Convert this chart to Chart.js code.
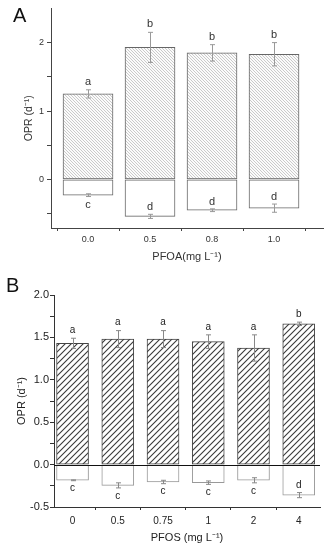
<!DOCTYPE html>
<html>
<head>
<meta charset="utf-8">
<script src="https://cdn.jsdelivr.net/npm/chart.js@4.4.1/dist/chart.umd.min.js"></script>
<style>
  html, body { margin: 0; padding: 0; background: #fff; }
  body { width: 331px; height: 550px; position: relative; overflow: hidden; font-family: 'Liberation Sans', Arial, sans-serif; }
  .panel { position: absolute; left: 0; width: 331px; }
  .tag { position: absolute; font-size: 20px; line-height: 20px; color: #111; font-family: 'Liberation Sans', Arial, sans-serif; }
</style>
</head>
<body>
<div class="panel" style="top:0;height:265px;"><canvas id="chartA" width="331" height="265"></canvas></div>
<div class="panel" style="top:265px;height:285px;"><canvas id="chartB" width="331" height="285"></canvas></div>
<div class="tag" style="left:13px;top:5px;">A</div>
<div class="tag" style="left:6px;top:275px;">B</div>
<script>
// ---------- Panel A data (PFOA) ----------
const categoriesA = ['0.0', '0.5', '0.8', '1.0'];
const positiveA = [1.25, 1.93, 1.85, 1.83];
const positiveErrA = [0.06, 0.22, 0.12, 0.17];
const negativeA = [-0.23, -0.54, -0.45, -0.42];
const negativeErrA = [0.02, 0.03, 0.02, 0.06];
const positiveLettersA = ['a', 'b', 'b', 'b'];
const negativeLettersA = ['c', 'd', 'd', 'd'];
const yTicksA = [-0.5, 0, 0.5, 1, 1.5, 2];
const yTickLabelsA = ['', '0', '', '1', '', '2'];

// ---------- Panel B data (PFOS) ----------
const categoriesB = ['0', '0.5', '0.75', '1', '2', '4'];
const positiveB = [1.43, 1.48, 1.48, 1.45, 1.375, 1.66];
const positiveErrB = [0.06, 0.10, 0.10, 0.08, 0.155, 0.02];
const negativeB = [-0.185, -0.245, -0.205, -0.213, -0.185, -0.36];
const negativeErrB = [0.005, 0.03, 0.02, 0.02, 0.03, 0.03];
const positiveLettersB = ['a', 'a', 'a', 'a', 'a', 'b'];
const negativeLettersB = ['c', 'c', 'c', 'c', 'c', 'd'];
const yTicksB = [-0.5, -0.25, 0, 0.25, 0.5, 0.75, 1, 1.25, 1.5, 1.75, 2];
const yTickLabelsB = ['-0.5', '', '0.0', '', '0.5', '', '1.0', '', '1.5', '', '2.0'];

const FONT = "'Liberation Sans', Arial, sans-serif";

function hatch(size, dir, color, lw, bg) {
  const c = document.createElement('canvas');
  c.width = size; c.height = size;
  const g = c.getContext('2d');
  g.fillStyle = bg; g.fillRect(0, 0, size, size);
  g.strokeStyle = color; g.lineWidth = lw;
  g.beginPath();
  if (dir === '/') {
    g.moveTo(-1, size + 1); g.lineTo(size + 1, -1);
    g.moveTo(-1, 1); g.lineTo(1, -1);
    g.moveTo(size - 1, size + 1); g.lineTo(size + 1, size - 1);
  } else {
    g.moveTo(-1, -1); g.lineTo(size + 1, size + 1);
    g.moveTo(size - 1, -1); g.lineTo(size + 1, 1);
    g.moveTo(-1, size - 1); g.lineTo(1, size + 1);
  }
  g.stroke();
  return g.createPattern(c, 'repeat');
}

function annotations(cfg) {
  return {
    id: 'annot',
    afterDatasetsDraw(chart) {
      const ctx = chart.ctx;
      const xs = chart.scales.x, ys = chart.scales.y;
      const area = chart.chartArea;
      ctx.save();
      if (cfg.zeroLine) {
        ctx.strokeStyle = '#111'; ctx.lineWidth = 1;
        const y0 = Math.round(ys.getPixelForValue(0)) + 0.5;
        ctx.beginPath(); ctx.moveTo(area.left, y0); ctx.lineTo(area.right, y0); ctx.stroke();
      }
      ctx.strokeStyle = cfg.errColor; ctx.lineWidth = 1;
      const drawErr = (x, v, e) => {
        const a = ys.getPixelForValue(v + e), b = ys.getPixelForValue(v - e);
        ctx.beginPath();
        ctx.moveTo(x, a); ctx.lineTo(x, b);
        ctx.moveTo(x - cfg.cap, a); ctx.lineTo(x + cfg.cap, a);
        ctx.moveTo(x - cfg.cap, b); ctx.lineTo(x + cfg.cap, b);
        ctx.stroke();
      };
      cfg.pos.forEach((v, i) => {
        const x = Math.round(xs.getPixelForValue(i + 1)) + 0.5;
        drawErr(x, v, cfg.posErr[i]);
        drawErr(x, cfg.neg[i], cfg.negErr[i]);
      });
      ctx.fillStyle = cfg.textColor;
      ctx.font = cfg.letterFont + 'px ' + FONT;
      ctx.textAlign = 'center'; ctx.textBaseline = 'middle';
      cfg.pos.forEach((v, i) => {
        const x = xs.getPixelForValue(i + 1);
        ctx.fillText(cfg.posLetters[i], x, ys.getPixelForValue(v + cfg.posErr[i]) - 8);
        const n = cfg.neg[i], ne = cfg.negErr[i];
        if (Math.abs(n) < 0.3) {
          ctx.fillText(cfg.negLetters[i], x, ys.getPixelForValue(n - ne) + 8);
        } else {
          ctx.fillText(cfg.negLetters[i], x, ys.getPixelForValue(n + ne) - 7);
        }
      });
      ctx.restore();
    }
  };
}

function makeChart(id, o) {
  const toPts = arr => arr.map((v, i) => ({ x: i + 1, y: v }));
  return new Chart(document.getElementById(id), {
    type: 'bar',
    data: {
      datasets: [
        { data: toPts(o.pos), backgroundColor: o.pattern, borderColor: o.posBorder, borderWidth: 1, borderSkipped: false, barThickness: o.barW, grouped: false },
        { data: toPts(o.neg), backgroundColor: '#ffffff', borderColor: o.negBorder, borderWidth: 1, borderSkipped: false, barThickness: o.barW, grouped: false }
      ]
    },
    options: {
      responsive: false,
      animation: false,
      events: [],
      layout: { padding: { top: o.padTop, right: o.padRight, left: 0, bottom: 0 } },
      plugins: { legend: { display: false }, tooltip: { enabled: false } },
      scales: {
        x: {
          type: 'linear', min: o.xMin, max: o.xMax, offset: false,
          afterBuildTicks: s => { s.ticks = o.cats.map((c, i) => ({ value: i + 1 })); },
          afterFit: s => { s.height = o.xAxisH; },
          ticks: { callback: (v, i) => o.cats[i], font: { family: FONT, size: o.xTickSize }, color: o.textColor, padding: o.xTickPad, maxRotation: 0, autoSkip: false },
          grid: { display: true, drawOnChartArea: false, tickLength: 3, color: o.axisColor, tickColor: o.axisColor },
          border: { display: true, color: o.axisColor, width: 1 },
          title: { display: true, text: o.xTitle, font: { family: FONT, size: 11 }, color: o.textColor, padding: { top: 0, bottom: o.xTitlePad } }
        },
        y: {
          min: o.yMin, max: o.yMax,
          afterBuildTicks: s => { s.ticks = o.yTicks.map(v => ({ value: v })); },
          afterFit: s => { s.width = o.yAxisW; },
          ticks: { callback: (v, i) => o.yLabels[i], font: { family: FONT, size: o.yTickSize }, color: o.textColor, padding: o.yTickPad, autoSkip: false },
          grid: { display: true, drawOnChartArea: false, tickLength: 4, color: o.axisColor, tickColor: o.axisColor },
          border: { display: true, color: o.axisColor, width: 1 },
          title: { display: true, text: 'OPR (d\u207B\u00B9)', font: { family: FONT, size: o.yTitleSize }, color: o.textColor, padding: { top: o.yTitlePad, bottom: 0 } }
        }
      }
    },
    plugins: [annotations({
      pos: o.pos, posErr: o.posErr, neg: o.neg, negErr: o.negErr,
      posLetters: o.posLetters, negLetters: o.negLetters,
      errColor: o.errColor, cap: o.cap, textColor: o.textColor, letterFont: o.letterFont, zeroLine: o.zeroLine
    })]
  });
}

makeChart('chartA', {
  cats: categoriesA, pos: positiveA, posErr: positiveErrA, neg: negativeA, negErr: negativeErrA,
  posLetters: positiveLettersA, negLetters: negativeLettersA,
  yTicks: yTicksA, yLabels: yTickLabelsA, yMin: -0.71, yMax: 2.5,
  xMin: 0.403, xMax: 4.79,
  pattern: hatch(3, '\\', '#b4b4b4', 0.7, '#fbfbfb'),
  posBorder: '#666', negBorder: '#666', barW: 50,
  padTop: 8, padRight: 8, xAxisH: 37, yAxisW: 51,
  xTickSize: 9, xTickPad: 3, yTickSize: 9, yTickPad: 3,
  xTitle: 'PFOA(mg L\u207B\u00B9)', xTitlePad: 1.5, yTitleSize: 10.5, yTitlePad: 22.5,
  axisColor: '#444', textColor: '#333', errColor: '#999', cap: 2.5, letterFont: 11, zeroLine: false
});

makeChart('chartB', {
  cats: categoriesB, pos: positiveB, posErr: positiveErrB, neg: negativeB, negErr: negativeErrB,
  posLetters: positiveLettersB, negLetters: negativeLettersB,
  yTicks: yTicksB, yLabels: yTickLabelsB, yMin: -0.5, yMax: 2.0,
  xMin: 0.59, xMax: 6.47,
  pattern: hatch(6, '/', '#3a3a3a', 1.1, '#ffffff'),
  posBorder: '#444', negBorder: '#999', barW: 32,
  padTop: 30, padRight: 11, xAxisH: 43, yAxisW: 54,
  xTickSize: 10, xTickPad: 5, yTickSize: 11, yTickPad: 1,
  xTitle: 'PFOS (mg L\u207B\u00B9)', xTitlePad: 5.5, yTitleSize: 11, yTitlePad: 15.5,
  axisColor: '#333', textColor: '#222', errColor: '#888', cap: 2.5, letterFont: 10, zeroLine: true
});
</script>
</body>
</html>
